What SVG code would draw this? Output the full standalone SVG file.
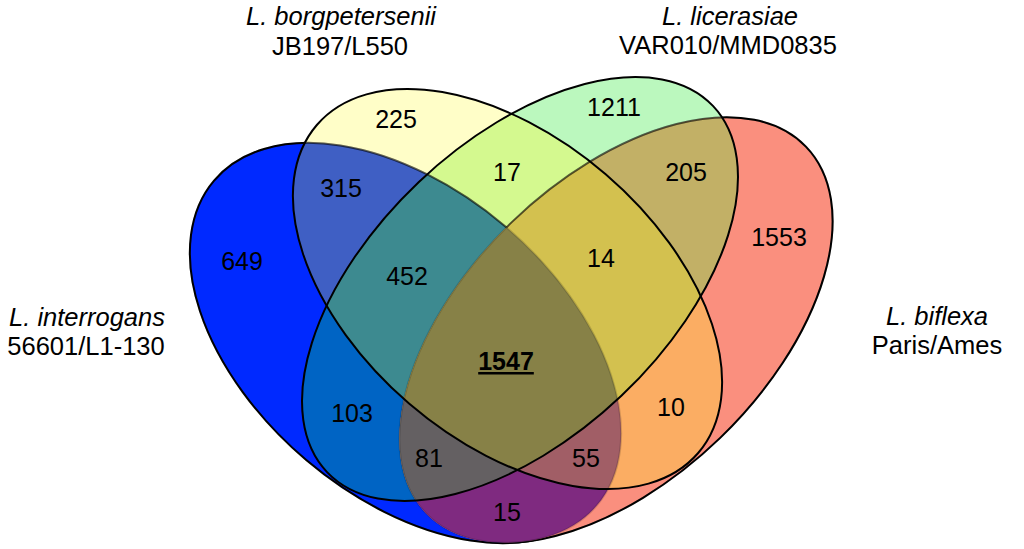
<svg xmlns="http://www.w3.org/2000/svg" xmlns:xlink="http://www.w3.org/1999/xlink" width="1024" height="549" viewBox="0 0 1024 549">
<style>
.ln{fill:none;stroke:#000;stroke-width:2}
.num{font-family:"Liberation Sans",Arial,Helvetica,sans-serif;font-size:25px;fill:#000;text-anchor:middle}
.lab{font-family:"Liberation Sans",Arial,Helvetica,sans-serif;font-size:25.5px;fill:#000;text-anchor:middle}
.it{font-style:italic}
</style>
<defs>
<ellipse id="eA" cx="0" cy="0" rx="251" ry="153.5" transform="translate(405.5,343) rotate(40.3)"/>
<ellipse id="eB" cx="0" cy="0" rx="251.5" ry="151" transform="translate(507.5,289) rotate(40.7)"/>
<ellipse id="eC" cx="0" cy="0" rx="266" ry="147.3" transform="translate(520,289) rotate(-43.5)"/>
<ellipse id="eD" cx="0" cy="0" rx="264" ry="150" transform="translate(616,330) rotate(-44)"/>
<clipPath id="cA"><use href="#eA"/></clipPath>
<clipPath id="cB"><use href="#eB"/></clipPath>
<clipPath id="cC"><use href="#eC"/></clipPath>
<clipPath id="cD"><use href="#eD"/></clipPath>
<mask id="mOutA" maskUnits="userSpaceOnUse" x="0" y="0" width="1024" height="549">
<rect width="1024" height="549" fill="#fff"/><use href="#eB" fill="#000"/><use href="#eC" fill="#000"/><use href="#eD" fill="#000"/>
</mask>
<mask id="mMidA" maskUnits="userSpaceOnUse" x="0" y="0" width="1024" height="549">
<rect width="1024" height="549" fill="#000"/><use href="#eB" fill="#fff"/><use href="#eC" fill="#fff"/><use href="#eD" fill="#000"/>
</mask>
<mask id="mOutD" maskUnits="userSpaceOnUse" x="0" y="0" width="1024" height="549">
<rect width="1024" height="549" fill="#fff"/><use href="#eA" fill="#000"/><use href="#eB" fill="#000"/><use href="#eC" fill="#000"/>
</mask>
<mask id="mMidD" maskUnits="userSpaceOnUse" x="0" y="0" width="1024" height="549">
<rect width="1024" height="549" fill="#000"/><use href="#eB" fill="#fff"/><use href="#eC" fill="#fff"/><use href="#eA" fill="#000"/>
</mask>
</defs>
<rect width="1024" height="549" fill="#fff"/>
<g id="regions">
<use href="#eA" fill="#0029ff"/>
<use href="#eB" fill="#fffec8"/>
<use href="#eC" fill="#bbf8be"/>
<use href="#eD" fill="#fa8f7e"/>
<g clip-path="url(#cA)"><use href="#eB" fill="#3f5fc4"/></g>
<g clip-path="url(#cA)"><use href="#eC" fill="#0064c4"/></g>
<g clip-path="url(#cA)"><use href="#eD" fill="#7f2a80"/></g>
<g clip-path="url(#cB)"><use href="#eC" fill="#d4f98f"/></g>
<g clip-path="url(#cB)"><use href="#eD" fill="#fbad63"/></g>
<g clip-path="url(#cC)"><use href="#eD" fill="#c2b066"/></g>
<g clip-path="url(#cA)"><g clip-path="url(#cB)"><use href="#eC" fill="#3d8a90"/></g></g>
<g clip-path="url(#cA)"><g clip-path="url(#cB)"><use href="#eD" fill="#a15e66"/></g></g>
<g clip-path="url(#cA)"><g clip-path="url(#cC)"><use href="#eD" fill="#646062"/></g></g>
<g clip-path="url(#cB)"><g clip-path="url(#cC)"><use href="#eD" fill="#d3c14f"/></g></g>
<g clip-path="url(#cA)"><g clip-path="url(#cB)"><g clip-path="url(#cC)"><use href="#eD" fill="#878147"/></g></g></g>
</g>
<g id="connectors">
<use href="#eA" class="ln" stroke-opacity="0.15"/>
<use href="#eA" class="ln" stroke-opacity="0.55" mask="url(#mMidA)"/>
<use href="#eA" class="ln" mask="url(#mOutA)"/>
<use href="#eD" class="ln" stroke-opacity="0.15"/>
<use href="#eD" class="ln" stroke-opacity="0.55" mask="url(#mMidD)"/>
<use href="#eD" class="ln" mask="url(#mOutD)"/>
<use href="#eB" class="ln"/>
<use href="#eC" class="ln"/>
</g>
<g id="set-borgpetersenii">
<text class="lab it" x="341" y="25">L. borgpetersenii</text>
<text class="lab" x="340" y="55">JB197/L550</text>
</g>
<g id="set-licerasiae">
<text class="lab it" x="730" y="25">L. licerasiae</text>
<text class="lab" x="728" y="54">VAR010/MMD0835</text>
</g>
<g id="set-interrogans">
<text class="lab it" x="87" y="326">L. interrogans</text>
<text class="lab" x="86" y="355">56601/L1-130</text>
</g>
<g id="set-biflexa">
<text class="lab it" x="937" y="325">L. biflexa</text>
<text class="lab" x="937" y="354">Paris/Ames</text>
</g>
<g id="counts">
<text class="num" x="396" y="128">225</text>
<text class="num" x="614" y="116">1211</text>
<text class="num" x="341" y="197">315</text>
<text class="num" x="507" y="181">17</text>
<text class="num" x="686" y="181">205</text>
<text class="num" x="242" y="270">649</text>
<text class="num" x="779" y="246">1553</text>
<text class="num" x="407" y="285">452</text>
<text class="num" x="601" y="267">14</text>
<text class="num" x="506" y="370" font-weight="bold" text-decoration="underline">1547</text>
<text class="num" x="352" y="422">103</text>
<text class="num" x="671" y="416">10</text>
<text class="num" x="429" y="467">81</text>
<text class="num" x="586" y="467">55</text>
<text class="num" x="507" y="521">15</text>
</g>
</svg>
